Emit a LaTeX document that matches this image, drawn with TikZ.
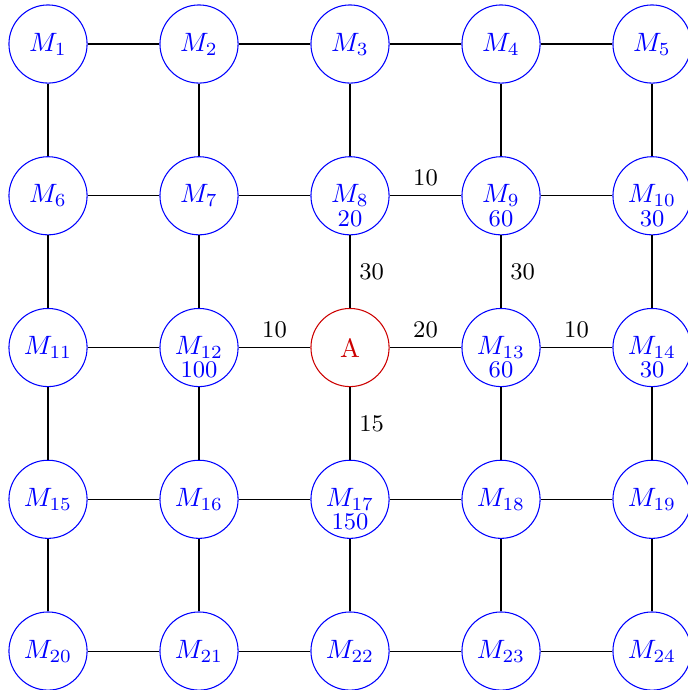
\documentclass[tikz,border=0pt]{standalone}
\begin{document}
\begin{tikzpicture}[
	machine/.style={circle, draw=blue, text=blue, minimum size=1.035cm, inner sep=0pt},
	depot/.style={circle, draw=red!80!black, text=red!80!black, minimum size=1.035cm, inner sep=0pt},
	demand/.style={font=\small, text=blue, yshift=13pt},
	cost/.style={font=\small}
]
	\useasboundingbox (-0.636,0.583) rectangle (8.464,-8.556);
	% Row 1
	\node[machine] (M1) at (0,0) {$M_{1}$};
	\node[machine] (M2) at (2,0) {$M_{2}$};
	\node[machine] (M3) at (4,0) {$M_{3}$};
	\node[machine] (M4) at (6,0) {$M_{4}$};
	\node[machine] (M5) at (8,0) {$M_{5}$};
	% Row 2
	\node[machine] (M6) at (0,-2.01) {$M_{6}$};
	\node[machine] (M7) at (2,-2.01) {$M_{7}$};
	\node[machine, label={[demand]below:20}] (M8) at (4,-2.01) {$M_{8}$};
	\node[machine, label={[demand]below:60}] (M9) at (6,-2.01) {$M_{9}$};
	\node[machine, label={[demand]below:30}] (M10) at (8,-2.01) {$M_{10}$};
	% Row 3
	\node[machine] (M11) at (0,-4.02) {$M_{11}$};
	\node[machine, label={[demand]below:100}] (M12) at (2,-4.02) {$M_{12}$};
	\node[depot] (A) at (4,-4.02) {A};
	\node[machine, label={[demand]below:60}] (M13) at (6,-4.02) {$M_{13}$};
	\node[machine, label={[demand]below:30}] (M14) at (8,-4.02) {$M_{14}$};
	% Row 4
	\node[machine] (M15) at (0,-6.03) {$M_{15}$};
	\node[machine] (M16) at (2,-6.03) {$M_{16}$};
	\node[machine, label={[demand]below:150}] (M17) at (4,-6.03) {$M_{17}$};
	\node[machine] (M18) at (6,-6.03) {$M_{18}$};
	\node[machine] (M19) at (8,-6.03) {$M_{19}$};
	% Row 5
	\node[machine] (M20) at (0,-8.04) {$M_{20}$};
	\node[machine] (M21) at (2,-8.04) {$M_{21}$};
	\node[machine] (M22) at (4,-8.04) {$M_{22}$};
	\node[machine] (M23) at (6,-8.04) {$M_{23}$};
	\node[machine] (M24) at (8,-8.04) {$M_{24}$};
	% Plain links
	\foreach \a/\b in {M1/M2, M2/M3, M3/M4, M4/M5, M6/M7, M7/M8, M9/M10, M11/M12, M14/M19,
		M15/M16, M16/M17, M17/M18, M18/M19, M20/M21, M21/M22, M22/M23, M23/M24,
		M1/M6, M6/M11, M11/M15, M15/M20, M2/M7, M7/M12, M12/M16, M16/M21,
		M3/M8, M17/M22, M4/M9, M13/M18, M18/M23, M5/M10, M10/M14, M19/M24}
		\draw (\a) -- (\b);
	% Weighted links
	\draw (M8) -- node[cost, above] {10} (M9);
	\draw (M8) -- node[cost, right] {30} (A);
	\draw (M9) -- node[cost, right] {30} (M13);
	\draw (M12) -- node[cost, above] {10} (A);
	\draw (A) -- node[cost, above] {20} (M13);
	\draw (M13) -- node[cost, above] {10} (M14);
	\draw (A) -- node[cost, right] {15} (M17);
\end{tikzpicture}
\end{document}
